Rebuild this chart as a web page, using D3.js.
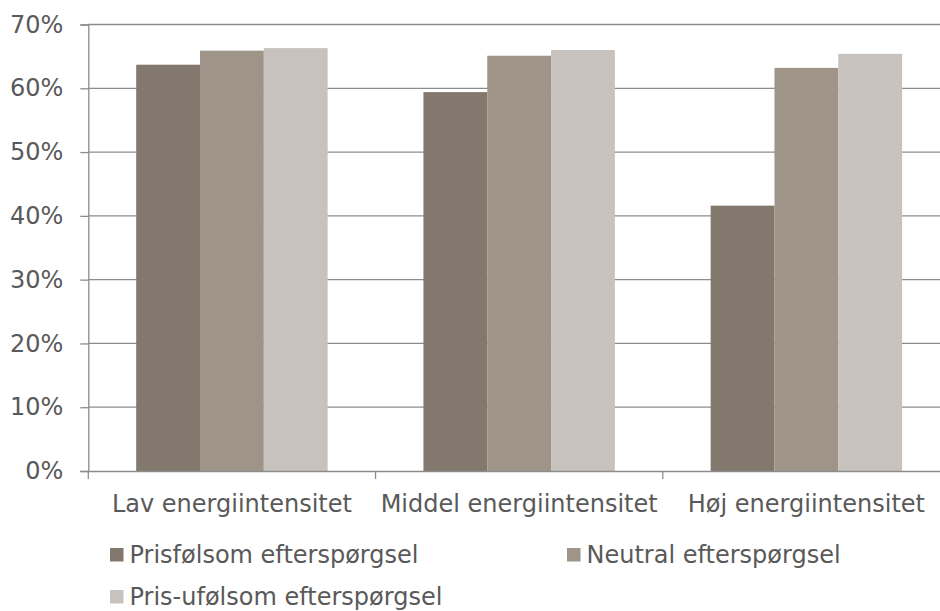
<!DOCTYPE html>
<html>
<head>
<meta charset="utf-8">
<script src="https://cdn.jsdelivr.net/npm/d3@7"></script>
<style>
  html, body { margin: 0; padding: 0; background: #fff; }
  svg { display: block; font-family: "DejaVu Sans", Verdana, sans-serif; }
</style>
</head>
<body>
<svg id="chart" width="940" height="611"></svg>
<script>
// Categories, series and values (percent)
const categories = ["Lav energiintensitet", "Middel energiintensitet", "Høj energiintensitet"];
const seriesNames = ["Prisfølsom efterspørgsel", "Neutral efterspørgsel", "Pris-ufølsom efterspørgsel"];
const prisfolsom = [63.7, 59.4, 41.6];
const neutral = [65.9, 65.1, 63.2];
const prisufolsom = [66.3, 66.0, 65.4];
const yTicks = [0, 10, 20, 30, 40, 50, 60, 70];
const colors = ["#82786e", "#9e9488", "#c7c2bd"];

const seriesValues = [prisfolsom, neutral, prisufolsom];
const rows = categories.map((c, i) => ({
  category: c,
  values: seriesNames.map((s, j) => ({ series: s, value: seriesValues[j][i] }))
}));

const svg = d3.select("#chart");
const textColor = "#595959";
const gridColor = "#8c8c8c";
const fontSize = "24px";

const x0 = d3.scaleBand().domain(categories).range([88.3, 950]).paddingInner(0).paddingOuter(0);
const x1 = d3.scaleBand().domain(seriesNames).range([47.9, x0.bandwidth() - 47.9]).padding(0);
const y = d3.scaleLinear().domain([0, 70]).range([471, 24.5]);
const color = d3.scaleOrdinal().domain(seriesNames).range(colors);

// Horizontal gridlines
svg.append("g")
  .selectAll("line")
  .data(yTicks.filter(t => t > 0))
  .join("line")
  .attr("x1", 88.3).attr("x2", 940)
  .attr("y1", d => y(d)).attr("y2", d => y(d))
  .attr("stroke", gridColor).attr("stroke-width", 1.3);

// Y axis
const yAxis = svg.append("g")
  .attr("transform", "translate(88.3,0)")
  .call(d3.axisLeft(y).tickValues(yTicks).tickFormat(d => d + "%").tickSize(8).tickPadding(17));
yAxis.select(".domain").attr("stroke", gridColor).attr("stroke-width", 1.3);
yAxis.selectAll(".tick line").attr("stroke", gridColor).attr("stroke-width", 1.3);
yAxis.selectAll(".tick text")
  .attr("fill", textColor)
  .style("font-size", fontSize)
  .style("font-family", "DejaVu Sans, Verdana, sans-serif");

// Bars
svg.append("g")
  .selectAll("g")
  .data(rows)
  .join("g")
  .attr("transform", d => `translate(${x0(d.category)},0)`)
  .selectAll("rect")
  .data(d => d.values)
  .join("rect")
  .attr("x", d => x1(d.series))
  .attr("width", x1.bandwidth())
  .attr("y", d => y(d.value))
  .attr("height", d => y(0) - y(d.value))
  .attr("fill", d => color(d.series));

// X axis
const xAxis = svg.append("g")
  .attr("transform", `translate(0,${y(0)})`)
  .call(d3.axisBottom(x0).tickSize(0).tickPadding(23.5));
xAxis.select(".domain").attr("stroke", gridColor).attr("stroke-width", 1.3);
xAxis.selectAll(".tick text")
  .attr("fill", textColor)
  .style("font-size", fontSize)
  .style("font-family", "DejaVu Sans, Verdana, sans-serif");

// Category boundary ticks
const boundaries = categories.map(c => x0(c));
svg.append("g")
  .selectAll("line")
  .data(boundaries)
  .join("line")
  .attr("x1", d => d).attr("x2", d => d)
  .attr("y1", y(0)).attr("y2", y(0) + 8)
  .attr("stroke", gridColor).attr("stroke-width", 1.3);

// Legend
const legendPos = [
  { x: 110, y: 548 },
  { x: 567, y: 548 },
  { x: 110, y: 590 }
];
const legend = svg.append("g")
  .selectAll("g")
  .data(seriesNames)
  .join("g")
  .attr("transform", (d, i) => `translate(${legendPos[i].x},${legendPos[i].y})`);
legend.append("rect")
  .attr("width", 13.5).attr("height", 13.5)
  .attr("fill", d => color(d));
legend.append("text")
  .attr("x", 19.5).attr("y", 15)
  .attr("fill", textColor)
  .style("font-size", fontSize)
  .text(d => d);
</script>
</body>
</html>
